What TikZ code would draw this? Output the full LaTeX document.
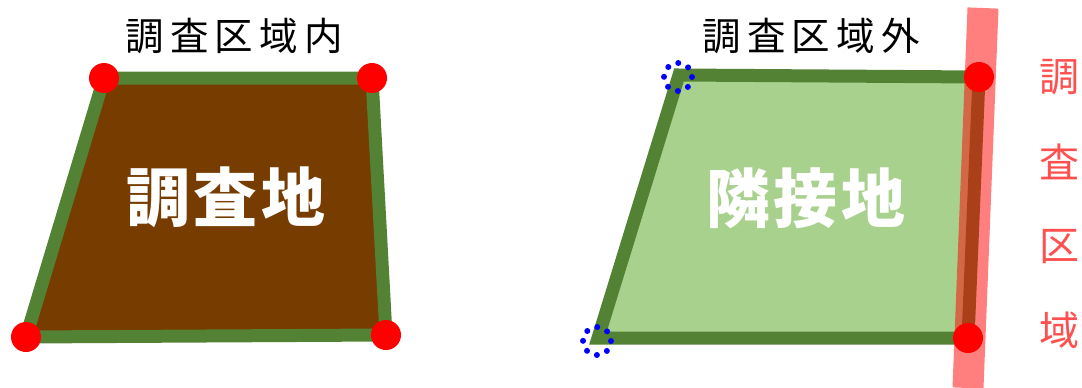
\documentclass[tikz,border=0pt]{standalone}
\usepackage{fontspec}
\setmainfont{Noto Sans CJK JP}
\definecolor{brownfill}{HTML}{763C00}
\definecolor{bordergreen}{HTML}{548235}
\definecolor{lightgreen}{HTML}{A9D18E}
\definecolor{redtext}{HTML}{FF5050}
\begin{document}
\begin{tikzpicture}[x=1pt,y=-1pt,
  parcel/.style={draw=bordergreen,line width=13pt,line join=miter},
  corner/.style={circle,fill=red,inner sep=0pt,minimum size=30pt},
  dotring/.style={draw=blue,line width=6pt,line cap=round,dash pattern=on 0pt off 11pt},
  toplabel/.style={font=\fontsize{38.5}{42}\selectfont\addfontfeature{LetterSpace=16}},
  biglabel/.style={text=white,font=\fontsize{64}{68}\selectfont\bfseries\addfontfeature{LetterSpace=6}},
  vlabel/.style={text=redtext,font=\fontsize{40}{44}\selectfont}]
\useasboundingbox (0,0) rectangle (1082,388);
% left parcel
\coordinate (a1) at (104,78);
\coordinate (a2) at (372,78);
\coordinate (a3) at (386,335);
\coordinate (a4) at (26,337);
\draw[parcel,fill=brownfill] (a1) -- (a2) -- (a3) -- (a4) -- cycle;
\node[corner] (c1) at (a1) {};
\node[corner] (c2) at (a2) {};
\node[corner] (c3) at (a3) {};
\node[corner] (c4) at (a4) {};
\node[toplabel] (t1) at (234,36) {調査区域内};
\node[biglabel] (b1) at (226,197) {調査地};
% right parcel
\coordinate (r1) at (679,75);
\coordinate (r2) at (979,77);
\coordinate (r3) at (968,338);
\coordinate (r4) at (598,338);
\draw[parcel,fill=lightgreen] (r1) -- (r2) -- (r3) -- (r4) -- cycle;
\node[biglabel] (b2) at (806,198) {隣接地};
\node[toplabel] (t2) at (811,36) {調査区域外};
% survey boundary band
\coordinate (p1) at (983,8);
\coordinate (p2) at (968,388);
\draw[red,opacity=0.5,line width=31pt] (p1) -- (p2);
\node[corner] (d1) at (r2) {};
\node[corner] (d2) at (r3) {};
% blue dotted rings
\draw[dotring] (678,77) circle (14);
\draw[dotring] (597,341) circle (14);
% vertical label
\node[vlabel] (v1) at (1059,77) {調};
\node[vlabel] (v2) at (1059,162) {査};
\node[vlabel] (v3) at (1059,247) {区};
\node[vlabel] (v4) at (1059,330) {域};
\end{tikzpicture}
\end{document}
